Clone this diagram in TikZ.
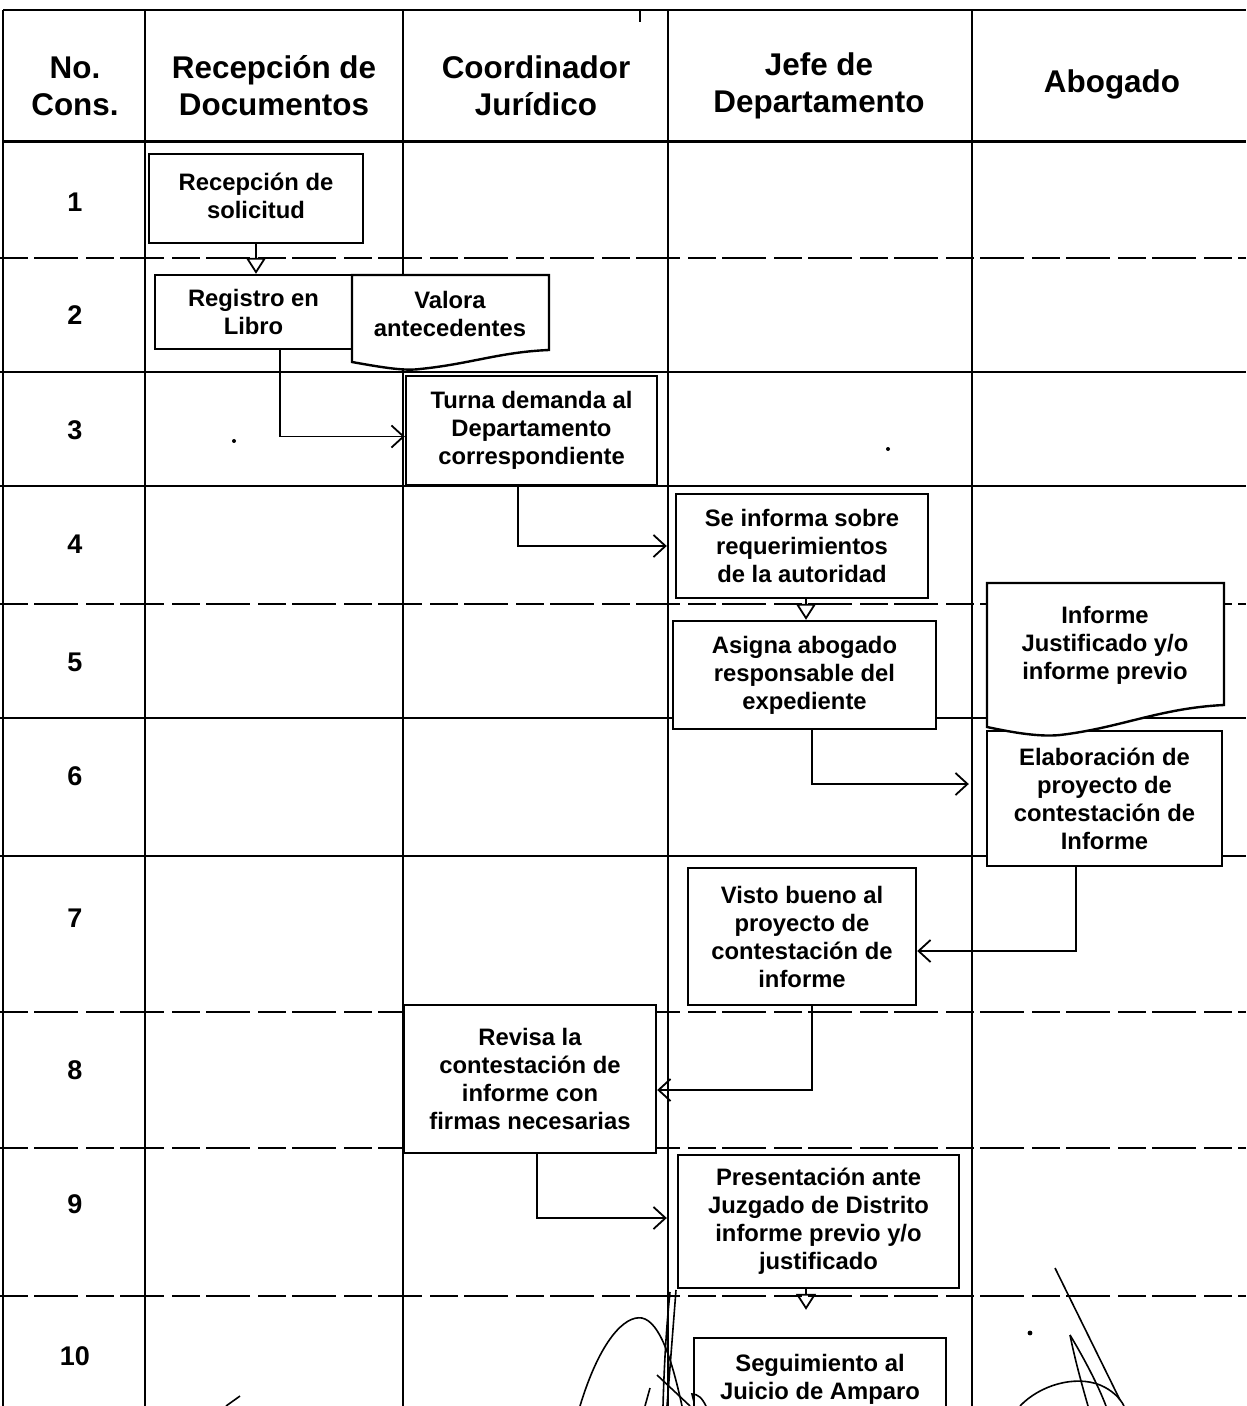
\documentclass[tikz,border=0pt]{standalone}
\usepackage{fontspec}
\setmainfont{Liberation Sans}
\usetikzlibrary{arrows.meta,calc}
\begin{document}
\begin{tikzpicture}[x=0.5pt,y=-0.5pt,
  gridline/.style={line width=0.7pt},
  rowdash/.style={line width=0.7pt, dash pattern=on 14pt off 3pt on 22pt off 4pt},
  box/.style={draw, fill=white, line width=1.2pt, align=center, font=\fontsize{11.9}{14}\selectfont\bfseries, inner sep=0pt},
  boxtext/.style={align=center, font=\fontsize{11.9}{14}\selectfont\bfseries, inner sep=0pt},
  docshape/.style={draw, fill=white, line width=1.2pt},
  hdr/.style={font=\fontsize{15.7}{18.5}\selectfont\bfseries, align=center},
  num/.style={font=\fontsize{13.5}{16}\selectfont\bfseries},
  flow/.style={line width=0.8pt, -{Straight Barb[length=6pt,width=11pt,line width=0.9pt]}},
  down/.style={line width=0.8pt, -{Triangle[open,length=8pt,width=10pt,line width=0.9pt]}},
  sig/.style={line width=0.8pt}
]
\useasboundingbox (0,0) rectangle (1246,1406);
\clip (0,0) rectangle (1246,1406);
\fill[white] (0,0) rectangle (1246,1406);

% grid
\draw[gridline] (3,10) -- (1246,10);
\draw[line width=1.5pt] (3,142) -- (1246,142);
\foreach \x in {3,145,403,668,972} \draw[gridline] (\x,10) -- (\x,1406);
\draw[gridline] (640,10) -- (640,22);
\foreach \y in {258,604,1012,1148,1296} \draw[rowdash] (0,\y) -- (1246,\y);
\foreach \y in {372,486,718,856} \draw[gridline] (0,\y) -- (1246,\y);

% header
\node[hdr] (h0) at (75,86) {No.\\Cons.};
\node[hdr] (h1) at (274,86) {Recepción de\\Documentos};
\node[hdr] (h2) at (536,86) {Coordinador\\Jurídico};
\node[hdr] (h3) at (819,86) {Jefe de\\Departamento};
\node[hdr] (h4) at (1112,84) {Abogado};

% row numbers
\node[num] (r1) at (75,202) {1};
\node[num] (r2) at (75,315) {2};
\node[num] (r3) at (75,430) {3};
\node[num] (r4) at (75,544) {4};
\node[num] (r5) at (75,662) {5};
\node[num] (r6) at (75,776) {6};
\node[num] (r7) at (75,918) {7};
\node[num] (r8) at (75,1070) {8};
\node[num] (r9) at (75,1204) {9};
\node[num] (r10) at (75,1356) {10};

% boxes
\node[box, minimum width=107pt, minimum height=44.5pt] (n1) at (256,198.5) {Recepción de\\solicitud\vphantom{p}};
\node[box, minimum width=98.5pt, minimum height=37pt] (n2) at (253.5,312) {Registro en\\Libro};
\draw[docshape] (352,275) -- (549,275) -- (549,350) .. controls (500,352) and (470,364) .. (420,369) .. controls (405,371) and (385,368) .. (352,362) -- cycle;
\node[boxtext] (n3) at (450,314) {Valora\\antecedentes};
\node[box, minimum width=125.5pt, minimum height=54.5pt] (n4) at (531.5,430.5) {Turna demanda al\\Departamento\\correspondiente};
\node[box, minimum width=126pt, minimum height=52pt] (n5) at (802,546) {Se informa sobre\\requerimientos\\de la autoridad};
\node[box, minimum width=131.5pt, minimum height=54pt] (n6) at (804.5,675) {Asigna abogado\\responsable del\\expediente};
\node[box, minimum width=117.5pt, minimum height=67.5pt] (n8) at (1104.5,798.5) {Elaboración de\\proyecto de\\contestación de\\Informe};
\draw[docshape] (987,583) -- (1224,583) -- (1224,705) .. controls (1160,708) and (1120,728) .. (1060,735) .. controls (1040,737) and (1015,733) .. (987,727) -- cycle;
\node[boxtext] (n7) at (1105,645) {Informe\\Justificado y/o\\informe previo};
\node[box, minimum width=114pt, minimum height=68.5pt] (n9) at (802,936.5) {Visto bueno al\\proyecto de\\contestación de\\informe};
\node[box, minimum width=126pt, minimum height=74pt] (n10) at (530,1079) {Revisa la\\contestación de\\informe con\\firmas necesarias};
\node[box, minimum width=140.5pt, minimum height=66.5pt] (n11) at (818.5,1221.5) {Presentación ante\\Juzgado de Distrito\\informe previo y/o\\justificado};
\node[box, minimum width=126pt, minimum height=41pt] (n12) at (820,1379) {Seguimiento al\\Juicio de Amparo};

% connectors
\draw[down] (n1.south) -- (n1.south |- n2.north);
\draw[flow] ([xshift=13.25pt]n2.south) |- ([yshift=-3pt]n4.west);
\draw[flow, shorten >=4pt] ([xshift=-6.75pt]n4.south) |- (n5.west);
\draw[down] ([xshift=2pt]n5.south) -- ([xshift=2pt]n5.south |- n6.north);
\draw[flow, shorten >=8.5pt] ([xshift=3.75pt]n6.south) |- ([yshift=7.25pt]n8.west);
\draw[flow] ([xshift=-14.25pt]n8.south) |- ([yshift=-7.25pt]n9.east);
\draw[flow] ([xshift=5pt]n9.south) |- ([yshift=-5.5pt]n10.east);
\draw[flow, shorten >=5pt] ([xshift=3.5pt]n10.south) |- ([yshift=1.75pt]n11.west);
\coordinate (c7s) at ([xshift=-6.25pt]n11.south);
\draw[down, shorten >=13.5pt] (c7s) -- (c7s |- n12.north);

% specks
\fill (234,441) circle (1pt);
\fill (888,449) circle (1pt);
\fill (1030,1333) circle (1.2pt);

% signatures
\draw[sig] (580,1406) .. controls (600,1340) and (625,1315) .. (642,1318) .. controls (660,1322) and (672,1360) .. (682,1406);
\draw[sig] (676,1290) -- (667,1406);
\draw[sig] (670,1292) .. controls (666,1330) and (664,1370) .. (663,1406);
\draw[sig] (657,1375) -- (690,1406);
\draw[sig] (650,1388) -- (645,1406);
\draw[sig] (706,1406) .. controls (702,1398) and (698,1394) .. (692,1394) -- (694,1402);
\draw[sig] (240,1396) -- (226,1406);
\draw[sig] (1055,1268) -- (1120,1400);
\draw[sig] (1070,1335) .. controls (1075,1360) and (1082,1385) .. (1088,1406);
\draw[sig] (1070,1335) .. controls (1085,1360) and (1098,1385) .. (1106,1406);
\draw[sig] (1020,1406) .. controls (1040,1385) and (1075,1375) .. (1100,1385) .. controls (1112,1390) and (1120,1398) .. (1124,1406);
\end{tikzpicture}
\end{document}
